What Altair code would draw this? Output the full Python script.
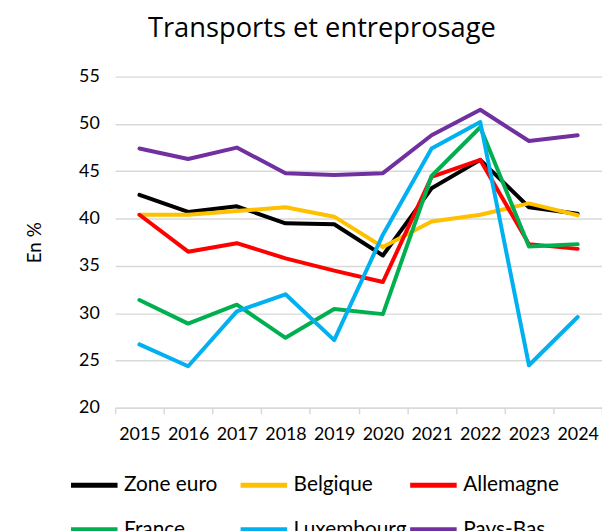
import altair as alt
import pandas as pd

years = ["2015", "2016", "2017", "2018", "2019", "2020", "2021", "2022", "2023", "2024"]
series_names = ["Zone euro", "Belgique", "Allemagne", "France", "Luxembourg", "Pays-Bas"]
colors = ["#000000", "#FFC000", "#FF0000", "#00B050", "#00B0F0", "#7030A0"]

zone_euro = [42.5, 40.7, 41.3, 39.5, 39.4, 36.1, 43.2, 46.2, 41.2, 40.5]
belgique = [40.4, 40.4, 40.8, 41.2, 40.2, 37.0, 39.7, 40.4, 41.6, 40.35]
allemagne = [40.4, 36.5, 37.4, 35.8, 34.5, 33.3, 44.4, 46.2, 37.3, 36.8]
france = [31.4, 28.9, 30.9, 27.4, 30.45, 29.9, 44.5, 49.65, 37.05, 37.3]
luxembourg = [26.7, 24.4, 30.2, 32.0, 27.15, 38.3, 47.4, 50.2, 24.5, 29.6]
pays_bas = [47.4, 46.3, 47.5, 44.8, 44.6, 44.8, 48.8, 51.5, 48.2, 48.8]

all_values = [zone_euro, belgique, allemagne, france, luxembourg, pays_bas]
rows = []
for name, vals in zip(series_names, all_values):
    for y, v in zip(years, vals):
        rows.append({"year": y, "series": name, "value": v})
df = pd.DataFrame(rows)

FONT = "Lato"
GRID = "#d9d9d9"

chart = alt.Chart(df).mark_line(strokeWidth=4, strokeJoin="round", strokeCap="round").encode(
    x=alt.X("year:O", sort=years,
            scale=alt.Scale(type="band", paddingInner=0, paddingOuter=0),
            axis=alt.Axis(title=None, labelAngle=0, tickBand="extent", grid=False,
                          domainColor=GRID, domainWidth=1.5, tickColor=GRID, tickWidth=1.5,
                          tickSize=6, labelPadding=12, labelFontSize=18, labelFont=FONT,
                          labelColor="#000000")),
    y=alt.Y("value:Q", scale=alt.Scale(domain=[20, 55], nice=False, zero=False),
            axis=alt.Axis(title="En %", values=[20, 25, 30, 35, 40, 45, 50, 55],
                          grid=True, gridColor=GRID, gridWidth=1.5, domain=False, ticks=False,
                          labelPadding=16, labelFontSize=18, labelFont=FONT, labelColor="#000000",
                          titleFont=FONT, titleFontSize=19, titleFontWeight="normal",
                          titleColor="#000000", titlePadding=34)),
    color=alt.Color("series:N", sort=series_names,
                    scale=alt.Scale(domain=series_names, range=colors),
                    legend=alt.Legend(title=None, orient="none", legendX=-47, legendY=386,
                                      columns=3, direction="horizontal", gridAlign="all",
                                      symbolType="stroke", symbolSize=2200, symbolStrokeWidth=5,
                                      labelFont=FONT, labelFontSize=21, labelColor="#000000",
                                      labelOffset=4, columnPadding=-7, rowPadding=9,
                                      labelLimit=300)),
).properties(
    width=491,
    height=334,
    title=alt.TitleParams("Transports et entreprosage", font="Open Sans", fontSize=27.5,
                          fontWeight="normal", color="#000000", anchor="middle",
                          dx=-37, offset=25),
    autosize=alt.AutoSizeParams(type="none"),
    padding={"left": 108, "top": 67, "right": 0, "bottom": 122},
).configure_view(stroke=None)

chart.save("out.html", embed_options={"renderer": "svg", "actions": False})
